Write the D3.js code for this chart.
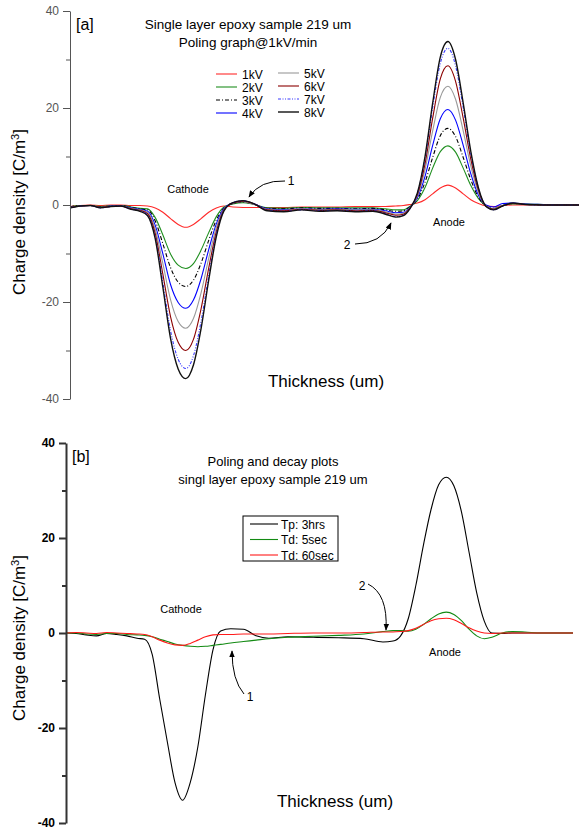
<!DOCTYPE html>
<html>
<head>
<meta charset="utf-8">
<script src="https://cdn.jsdelivr.net/npm/d3@7/dist/d3.min.js"></script>
<style>
  body { margin: 0; background: #fff; }
  svg text { font-family: "Liberation Sans", Arial, sans-serif; }
</style>
</head>
<body>
<svg id="chart" width="579" height="834"></svg>
<script>
// thickness positions (um)
var thickA = [0, 8, 16, 24, 32, 40, 48, 55, 61, 67, 73, 79, 85, 91, 97, 103, 109, 115, 121, 128, 136, 145, 155, 168, 182, 196, 210, 224, 238, 248, 256, 262, 267, 273, 279, 285, 291, 297, 303, 309, 315, 321, 327, 333, 340, 348, 358, 372, 386, 400];
var thickB = [0, 8, 16, 24, 32, 40, 48, 56, 62, 68, 74, 80, 86, 92, 98, 104, 110, 116, 122, 130, 140, 150, 160, 175, 195, 215, 235, 250, 258, 264, 270, 276, 282, 288, 294, 300, 306, 312, 318, 324, 330, 336, 344, 352, 362, 375, 388, 400];

// [a] poling at 1kV/min, charge density C/m3
var kv1 = [-0.3,-0.1,0,-0.1,0,0,-0.1,-0.1, -0.2,-0.6,-1.5,-2.8,-4.0,-4.6,-4.0,-2.8,-1.5,-0.6,-0.2, -0.4,-0.5,-0.5,-0.5,-0.5,-0.4,-0.4,-0.4,-0.3,-0.3,-0.3,-0.2,-0.1, 0.1,0.4,1.1,2.3,3.5,4.1,3.5,2.3,1.1,0.3,-0.2,-0.3, -0.1,0,0,0,0,0];
var kv2 = [-0.4,-0.1,-0.1,-0.3,-0.2,-0.1,-0.4,-0.7, -0.8,-2.6,-6.2,-10.1,-12.4,-13.1,-12.1,-9.3,-5.7,-2.4,-0.4, 0.2,0.5,0.1,-0.6,-0.7,-0.5,-0.6,-0.6,-0.6,-0.6,-0.8,-1.0,-1.0, -0.3,0.9,3.6,7.6,11.0,12.2,10.9,7.6,4.0,1.3,-0.2,-0.8, -0.1,0.2,0.2,0.1,0,0];
var kv3 = [-0.4,-0.1,-0.1,-0.4,-0.2,-0.1,-0.5,-0.8, -1.0,-3.3,-8.0,-12.9,-15.9,-16.8,-15.5,-12.0,-7.3,-3.1,-0.6, 0.3,0.6,0.1,-0.7,-0.8,-0.6,-0.7,-0.7,-0.8,-0.7,-1.0,-1.3,-1.2, -0.4,1.2,4.7,9.8,14.3,15.8,14.1,9.8,5.2,1.6,-0.2,-0.7, -0.1,0.3,0.1,0,0,0];
var kv4 = [-0.5,-0.2,-0.1,-0.5,-0.2,-0.2,-0.6,-0.9, -1.3,-4.2,-10.1,-16.4,-20.1,-21.3,-19.6,-15.2,-9.2,-3.9,-0.7, 0.4,0.8,0.2,-0.8,-1.0,-0.8,-0.9,-0.8,-0.9,-0.9,-1.2,-1.6,-1.5, -0.5,1.5,5.9,12.3,17.8,19.7,17.5,12.3,6.4,2.0,0,-0.4, 0.3,0.4,0.2,0.1,0,0];
var kv5 = [-0.5,-0.2,-0.1,-0.5,-0.3,-0.2,-0.7,-1.0, -1.5,-5.0,-12.1,-19.5,-24.0,-25.4,-23.4,-18.1,-11.0,-4.6,-0.9, 0.4,0.7,0.1,-0.9,-1.1,-0.8,-1.0,-0.9,-1.0,-1.0,-1.4,-1.9,-1.7, -0.6,1.8,7.3,15.3,22.2,24.5,21.8,15.3,8.0,2.5,-0.2,-0.8, -0.1,0.3,0.1,0,0,0];
var kv6 = [-0.5,-0.2,-0.1,-0.5,-0.3,-0.2,-0.8,-1.1, -1.8,-5.9,-14.3,-23.0,-28.3,-30.0,-27.7,-21.4,-13.0,-5.5,-1.0, 0.4,0.8,0.2,-1.0,-1.2,-0.9,-1.1,-1.0,-1.2,-1.1,-1.6,-2.1,-1.9, -0.7,2.1,8.5,17.9,26.0,28.7,25.5,17.9,9.4,3.0,-0.3,-0.9, -0.2,0.3,0.1,0,0,0];
var kv7 = [-0.6,-0.2,-0.1,-0.6,-0.3,-0.2,-0.9,-1.2, -2.1,-6.6,-16.0,-25.9,-31.8,-33.7,-31.1,-24.0,-14.6,-6.1,-1.1, 0.5,0.9,0.2,-1.1,-1.3,-1.0,-1.2,-1.1,-1.3,-1.2,-1.8,-2.4,-2.1, -0.8,2.4,9.6,20.1,29.2,32.3,28.7,20.1,10.5,3.4,-0.3,-1.0, -0.2,0.4,0.1,0,0,0];
var kv8 = [-0.6,-0.2,-0.1,-0.6,-0.3,-0.2,-0.9,-1.3, -2.2,-7,-17,-27.5,-33.8,-35.8,-33,-25.5,-15.5,-6.5,-1.2, 0.5,0.9,0.2,-1.2,-1.4,-1.0,-1.3,-1.2,-1.4,-1.3,-1.9,-2.5,-2.2, -0.8,2.5,10,21,30.5,33.7,30,21,11,3.5,-0.3,-1.0, -0.2,0.4,0.1,0,0,0];

// [b] poling and decay
var tp3hrs = [0,-0.1,-0.4,-0.6,-0.1,-0.3,-0.6,-1.1, -1.3,-4.5,-14,-23,-31.5,-35.2,-31.5,-24,-13,-3.5,0.4, 0.9,0.8,-0.6,-1.1,-0.8,-0.9,-1.0,-1.2,-1.9,-1.7,-0.6, 3,10,18.5,26,31.2,32.8,31,25.5,17,8.5,2.5,0, -0.1,0,0,0,0,0];
var td5sec = [0,0,-0.2,-0.3,-0.1,-0.1,-0.3,-0.4, -0.5,-0.8,-1.3,-1.8,-2.3,-2.6,-2.8,-2.9,-2.8,-2.6,-2.4, -2.1,-1.8,-1.5,-1.2,-0.9,-0.7,-0.5,-0.2,0.3,0.5,0.5, 0.4,0.8,1.8,3.0,4.0,4.4,3.9,2.6,0.8,-0.6,-1.2,-0.9, 0,0.3,0.2,0,0,0];
var td60sec = [0,0.1,0,-0.1,0.1,0,-0.1,-0.2, -0.3,-0.8,-1.5,-2.1,-2.5,-2.6,-2.2,-1.5,-0.8,-0.4,-0.3, -0.3,-0.2,-0.2,-0.2,-0.1,0,0,0.1,0.2,0.2,0.3, 0.5,1.0,1.8,2.6,3.0,3.1,2.8,2.0,1.1,0.4,0,-0.1, 0,0,0,0,0,0];

var majorTicks = [-40, -20, 0, 20, 40];
var minorTicks = [-30, -10, 10, 30];

var svg = d3.select("#chart");

// arrow head
svg.append("defs").append("marker")
    .attr("id", "head")
    .attr("viewBox", "0 0 10 10")
    .attr("refX", 9).attr("refY", 5)
    .attr("markerWidth", 7).attr("markerHeight", 7)
    .attr("markerUnits", "userSpaceOnUse")
    .attr("orient", "auto")
  .append("path")
    .attr("d", "M0,1 L10,5 L0,9 Z")
    .attr("fill", "#000");

function drawPanel(p) {
  var x = d3.scaleLinear().domain([0, 400]).range(p.xr);
  var y = d3.scaleLinear().domain([-40, 40]).range(p.yr);
  var g = svg.append("g");

  var line = d3.line()
      .curve(d3.curveMonotoneX)
      .x(function(d) { return x(d[0]); })
      .y(function(d) { return y(d[1]); });

  p.series.forEach(function(s) {
    g.append("path")
      .datum(p.thick.map(function(t, i) { return [t, s.values[i]]; }))
      .attr("fill", "none")
      .attr("stroke", s.color)
      .attr("stroke-width", s.width || 1.1)
      .attr("stroke-dasharray", s.dash || null)
      .attr("d", line);
  });

  // y axis, major + minor ticks
  var ax = g.append("g")
      .attr("transform", "translate(" + p.xr[0] + ",0)")
      .call(d3.axisLeft(y).tickValues(majorTicks).tickSize(7).tickSizeOuter(0).tickPadding(4)
        .tickFormat(function(d) { return String(d); }));
  g.append("g")
      .attr("transform", "translate(" + p.xr[0] + ",0)")
      .call(d3.axisLeft(y).tickValues(minorTicks).tickSize(4).tickSizeOuter(0).tickFormat(""))
      .call(function(a) { a.select(".domain").remove(); })
      .selectAll("line").attr("stroke", p.axisColor).attr("stroke-width", p.axisWidth);
  ax.select(".domain").attr("stroke", p.axisColor).attr("stroke-width", p.axisWidth);
  ax.selectAll(".tick line").attr("stroke", p.axisColor).attr("stroke-width", p.axisWidth);
  ax.selectAll(".tick text")
      .attr("fill", p.labelColor)
      .style("font-size", "12px")
      .style("font-weight", p.labelWeight)
      .style("font-family", "'Liberation Sans', Arial, sans-serif");

  // y title
  var yt = g.append("text")
      .attr("transform", "translate(" + 25 + "," + p.yTitleY + ") rotate(-90)")
      .attr("text-anchor", "middle")
      .style("font-size", "17px")
      .text("Charge density [C/m");
  yt.append("tspan").attr("baseline-shift", "super").style("font-size", "11px").text("3");
  yt.append("tspan").text("]");

  g.append("text")
      .attr("x", p.xTitle[0]).attr("y", p.xTitle[1])
      .attr("text-anchor", "middle")
      .style("font-size", "17px")
      .text("Thickness (um)");

  g.append("text")
      .attr("x", p.xr[0] + 6).attr("y", p.yr[1] + 19)
      .style("font-size", "16px")
      .text(p.tag);

  p.title.forEach(function(t, i) {
    g.append("text")
      .attr("x", p.titleX).attr("y", p.titleY + i * 18)
      .attr("text-anchor", "middle")
      .style("font-size", p.titleSize + "px")
      .text(t);
  });

  p.notes.forEach(function(n) {
    g.append("text")
      .attr("x", n[1]).attr("y", n[2])
      .attr("text-anchor", "middle")
      .style("font-size", n[3] + "px")
      .text(n[0]);
  });

  p.arrows.forEach(function(a) {
    g.append("path")
      .attr("d", "M" + a[0] + "," + a[1] + " Q" + a[2] + "," + a[3] + " " + a[4] + "," + a[5])
      .attr("fill", "none")
      .attr("stroke", "#000")
      .attr("stroke-width", 1)
      .attr("marker-end", "url(#head)");
  });

  return g;
}

var seriesA = [
  {name: "1kV", values: kv1, color: "#ff2a2a"},
  {name: "2kV", values: kv2, color: "#1f8f1f"},
  {name: "3kV", values: kv3, color: "#000", dash: "4,2,1,2"},
  {name: "4kV", values: kv4, color: "#0000ff"},
  {name: "5kV", values: kv5, color: "#999"},
  {name: "6kV", values: kv6, color: "#8b0000"},
  {name: "7kV", values: kv7, color: "#3a3aff", dash: "3,1.5,1,1.5,1,1.5"},
  {name: "8kV", values: kv8, color: "#111", width: 1.4}
];

var gA = drawPanel({
  xr: [70, 579], yr: [399, 11], thick: thickA,
  series: seriesA,
  axisColor: "#555", axisWidth: 1, labelColor: "#555", labelWeight: "normal",
  yTitleY: 212, xTitle: [326, 387], tag: "[a]",
  title: ["Single layer epoxy sample 219 um", "Poling graph@1kV/min"], titleX: 248, titleY: 29, titleSize: 13.5,
  notes: [["Cathode", 188, 193, 11], ["Anode", 449, 226, 11], ["1", 291, 185, 12], ["2", 347, 249, 12]],
  arrows: [[285, 181, 260, 180, 249, 197], [355, 244, 381, 244, 391, 223]]
});

// legend [a], two columns of four
seriesA.forEach(function(s, i) {
  var col = Math.floor(i / 4), row = i % 4;
  var lx = col === 0 ? 216 : 278, ly = 74 + row * 13 - col;
  gA.append("line")
    .attr("x1", lx).attr("x2", lx + 21).attr("y1", ly).attr("y2", ly)
    .attr("stroke", s.color).attr("stroke-width", s.width || 1.1)
    .attr("stroke-dasharray", s.dash || null);
  gA.append("text")
    .attr("x", lx + 26).attr("y", ly + 5)
    .style("font-size", "12px")
    .text(s.name);
});

var seriesB = [
  {name: "Tp: 3hrs", values: tp3hrs, color: "#000"},
  {name: "Td: 5sec", values: td5sec, color: "#138a13"},
  {name: "Td: 60sec", values: td60sec, color: "#ff1a1a"}
];

var gB = drawPanel({
  xr: [66, 573], yr: [823, 443], thick: thickB,
  series: seriesB,
  axisColor: "#333", axisWidth: 2, labelColor: "#000", labelWeight: "bold",
  yTitleY: 638, xTitle: [335, 807], tag: "[b]",
  title: ["Poling and decay plots", "singl layer epoxy sample 219 um"], titleX: 273, titleY: 466, titleSize: 13,
  notes: [["Cathode", 181, 613, 11], ["Anode", 445, 656, 11], ["1", 250, 701, 12], ["2", 362, 590, 12]],
  arrows: [[244, 694, 232, 680, 232, 651], [368, 584, 388, 594, 386, 630]]
});

// legend [b], boxed
gB.append("rect")
  .attr("x", 243).attr("y", 516).attr("width", 95).attr("height", 45)
  .attr("fill", "#fff").attr("stroke", "#000").attr("stroke-width", 1);
seriesB.forEach(function(s, i) {
  var ly = 524 + i * 15.5;
  gB.append("line")
    .attr("x1", 250).attr("x2", 278).attr("y1", ly).attr("y2", ly)
    .attr("stroke", s.color).attr("stroke-width", 1.1);
  gB.append("text")
    .attr("x", 281).attr("y", ly + 4.5)
    .style("font-size", "12px")
    .text(s.name);
});
</script>
</body>
</html>
